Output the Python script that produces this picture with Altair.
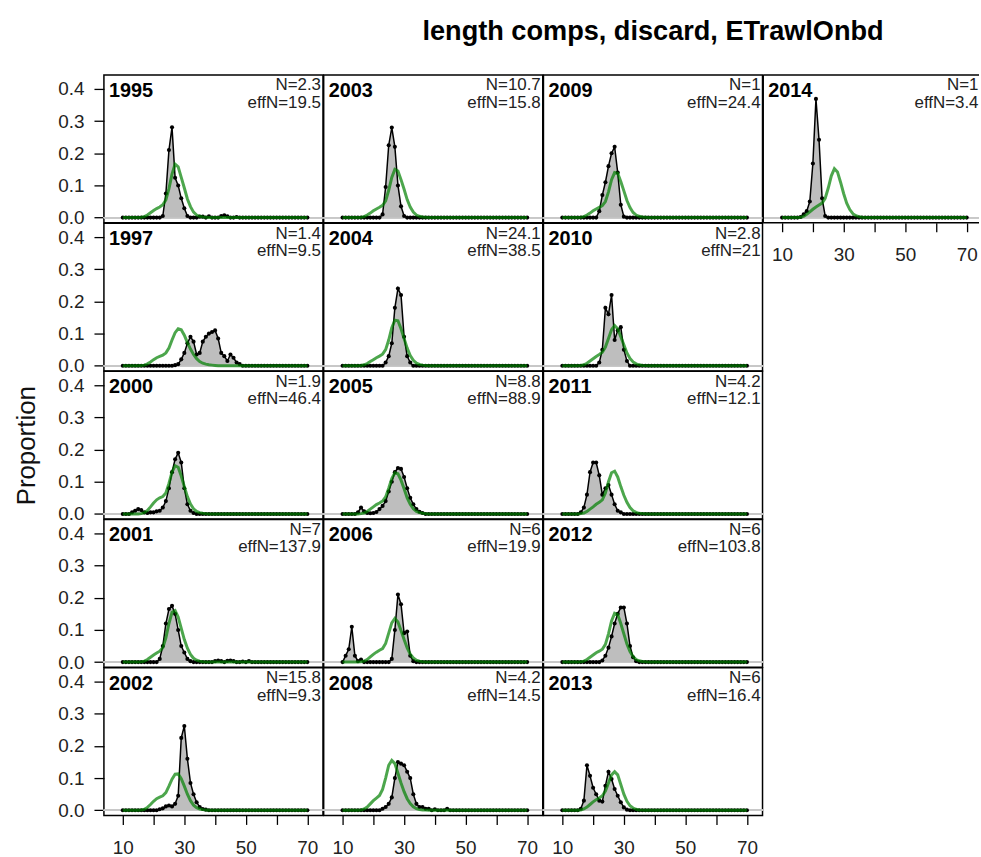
import altair as alt
import pandas as pd

FONT = "Liberation Sans"
TITLE = "length comps, discard, ETrawlOnbd"

bins = list(range(10, 71))

# panel grid, row by row (None = empty cell)
grid_years = [
    [1995, 2003, 2009, 2014],
    [1997, 2004, 2010, None],
    [2000, 2005, 2011, None],
    [2001, 2006, 2012, None],
    [2002, 2008, 2013, None],
]
x_axis_years = [2002, 2008, 2013, 2014]
open_right_years = [2014]  # right edge of this panel runs past the page

n_text = {1995: "N=2.3", 1997: "N=1.4", 2000: "N=1.9", 2001: "N=7", 2002: "N=15.8",
          2003: "N=10.7", 2004: "N=24.1", 2005: "N=8.8", 2006: "N=6", 2008: "N=4.2",
          2009: "N=1", 2010: "N=2.8", 2011: "N=4.2", 2012: "N=6", 2013: "N=6", 2014: "N=1"}
effn_text = {1995: "effN=19.5", 1997: "effN=9.5", 2000: "effN=46.4", 2001: "effN=137.9",
             2002: "effN=9.3", 2003: "effN=15.8", 2004: "effN=38.5", 2005: "effN=88.9",
             2006: "effN=19.9", 2008: "effN=14.5", 2009: "effN=24.4", 2010: "effN=21",
             2011: "effN=12.1", 2012: "effN=103.8", 2013: "effN=16.4", 2014: "effN=3.4"}

# observed proportions: first length bin, then values for consecutive bins
obs_start = {1995: 23, 1997: 27, 2000: 13, 2001: 22, 2002: 22, 2003: 23, 2004: 24, 2005: 15,
             2006: 11, 2008: 23, 2009: 22, 2010: 22, 2011: 16, 2012: 23, 2013: 16, 2014: 16}
obs_vals = {
    1995: [0.005, 0.075, 0.21, 0.281, 0.124, 0.10, 0.06, 0.029, 0.005, 0, 0, 0, 0.003, 0.003, 0,
           0.004, 0, 0, 0, 0.005, 0.007, 0.004, 0, 0, 0.002],
    1997: [0.002, 0.005, 0.02, 0.04, 0.07, 0.09, 0.075, 0.035, 0.04, 0.075, 0.09, 0.10, 0.105,
           0.11, 0.085, 0.04, 0.03, 0.015, 0.035, 0.025, 0.01, 0.005],
    2000: [0.005, 0.01, 0.015, 0.012, 0.005, 0.003, 0.005, 0.005, 0.008, 0.01, 0.02, 0.04, 0.08,
           0.13, 0.17, 0.19, 0.16, 0.08, 0.03, 0.01, 0.003],
    2001: [0.01, 0.05, 0.12, 0.165, 0.175, 0.15, 0.10, 0.05, 0.03, 0.01, 0.003, 0, 0, 0, 0, 0, 0,
           0, 0.003, 0.005, 0.003, 0, 0.004, 0.005, 0.003, 0, 0, 0.002, 0, 0.003],
    2002: [0.003, 0.006, 0.012, 0.015, 0.012, 0.02, 0.045, 0.225, 0.262, 0.16, 0.085, 0.05, 0.025,
           0.01, 0.004, 0.002],
    2003: [0.01, 0.095, 0.225, 0.28, 0.22, 0.10, 0.035, 0.005],
    2004: [0.01, 0.03, 0.07, 0.18, 0.24, 0.22, 0.09, 0.03, 0.01],
    2005: [0.005, 0.02, 0.008, 0.003, 0.002, 0.003, 0.006, 0.015, 0.025, 0.04, 0.07, 0.10, 0.13,
           0.143, 0.14, 0.115, 0.08, 0.05, 0.03, 0.015, 0.007, 0.003],
    2006: [0.02, 0.04, 0.11, 0.02, 0.003, 0.008, 0, 0, 0, 0, 0, 0, 0, 0, 0, 0.01, 0.10, 0.21,
           0.18, 0.09, 0.095, 0.02, 0.003],
    2008: [0.005, 0.01, 0.02, 0.04, 0.10, 0.15, 0.145, 0.14, 0.12, 0.10, 0.05, 0.02, 0.01, 0.01,
           0.005, 0.005, 0, 0.003, 0, 0, 0, 0.005],
    2009: [0.02, 0.07, 0.11, 0.16, 0.20, 0.22, 0.14, 0.04, 0.003],
    2010: [0.01, 0.05, 0.18, 0.16, 0.22, 0.08, 0.11, 0.12, 0.05, 0.015],
    2011: [0.005, 0.02, 0.06, 0.13, 0.16, 0.16, 0.12, 0.06, 0.08, 0.09, 0.06, 0.03, 0.01, 0.005],
    2012: [0.005, 0.02, 0.045, 0.08, 0.12, 0.15, 0.17, 0.17, 0.12, 0.05, 0.015, 0.003],
    2013: [0.005, 0.03, 0.14, 0.107, 0.07, 0.05, 0.03, 0.027, 0.076, 0.12, 0.097, 0.066, 0.045,
           0.025, 0.009, 0.002],
    2014: [0.002, 0.01, 0.02, 0.05, 0.168, 0.369, 0.242, 0.06, 0.005],
}

# expected proportions, starting at length bin 16
exp_start = 16
exp_vals = {
    1995: [0.001, 0.003, 0.008, 0.015, 0.022, 0.028, 0.033, 0.04, 0.055, 0.09, 0.135, 0.166,
           0.158, 0.125, 0.092, 0.058, 0.034, 0.017, 0.008, 0.004, 0.002, 0.001],
    1997: [0.001, 0.002, 0.006, 0.012, 0.019, 0.025, 0.029, 0.033, 0.04, 0.055, 0.08, 0.103,
           0.115, 0.112, 0.095, 0.072, 0.052, 0.035, 0.022, 0.013, 0.008, 0.005, 0.003, 0.002, 0.001],
    2000: [0.001, 0.004, 0.011, 0.022, 0.034, 0.044, 0.05, 0.054, 0.065, 0.095, 0.13, 0.15,
           0.145, 0.118, 0.085, 0.054, 0.031, 0.016, 0.008, 0.004, 0.002, 0.001],
    2001: [0.001, 0.003, 0.008, 0.015, 0.022, 0.028, 0.034, 0.045, 0.075, 0.12, 0.155, 0.16,
           0.14, 0.105, 0.07, 0.043, 0.024, 0.012, 0.006, 0.003, 0.001, 0.0005],
    2002: [0.001, 0.003, 0.009, 0.018, 0.028, 0.036, 0.041, 0.045, 0.055, 0.075, 0.097, 0.112,
           0.113, 0.098, 0.075, 0.05, 0.03, 0.016, 0.008, 0.004, 0.002, 0.001],
    2003: [0.001, 0.003, 0.008, 0.014, 0.021, 0.027, 0.032, 0.038, 0.052, 0.085, 0.125, 0.15,
           0.145, 0.118, 0.088, 0.056, 0.033, 0.017, 0.008, 0.004, 0.002, 0.001],
    2004: [0.001, 0.003, 0.007, 0.013, 0.019, 0.025, 0.03, 0.036, 0.05, 0.08, 0.118, 0.142,
           0.14, 0.115, 0.085, 0.055, 0.032, 0.017, 0.008, 0.004, 0.002, 0.001],
    2005: [0.001, 0.003, 0.008, 0.015, 0.022, 0.029, 0.034, 0.04, 0.053, 0.08, 0.11, 0.128,
           0.125, 0.105, 0.078, 0.05, 0.03, 0.016, 0.008, 0.004, 0.002, 0.001],
    2006: [0.001, 0.003, 0.008, 0.016, 0.024, 0.031, 0.037, 0.042, 0.058, 0.09, 0.122, 0.136,
           0.125, 0.098, 0.07, 0.044, 0.025, 0.013, 0.006, 0.003, 0.001, 0.0005],
    2008: [0.001, 0.004, 0.01, 0.02, 0.03, 0.038, 0.046, 0.065, 0.10, 0.14, 0.155, 0.145, 0.115,
           0.085, 0.058, 0.036, 0.021, 0.011, 0.005, 0.002, 0.001, 0.0005],
    2009: [0.001, 0.003, 0.008, 0.014, 0.021, 0.027, 0.032, 0.037, 0.05, 0.08, 0.118, 0.14,
           0.138, 0.112, 0.083, 0.053, 0.031, 0.016, 0.008, 0.004, 0.002, 0.001],
    2010: [0.001, 0.003, 0.008, 0.015, 0.022, 0.029, 0.035, 0.042, 0.058, 0.085, 0.112, 0.125,
           0.115, 0.09, 0.065, 0.04, 0.023, 0.012, 0.006, 0.003, 0.001, 0.0005],
    2011: [0.001, 0.003, 0.008, 0.015, 0.022, 0.03, 0.036, 0.044, 0.065, 0.10, 0.128, 0.133,
           0.115, 0.085, 0.058, 0.036, 0.02, 0.01, 0.005, 0.002, 0.001, 0.0005],
    2012: [0.001, 0.003, 0.008, 0.015, 0.022, 0.029, 0.034, 0.04, 0.055, 0.088, 0.128, 0.152,
           0.148, 0.12, 0.088, 0.056, 0.033, 0.017, 0.008, 0.004, 0.002, 0.001],
    2013: [0.001, 0.004, 0.01, 0.018, 0.026, 0.033, 0.038, 0.045, 0.06, 0.085, 0.11, 0.12, 0.11,
           0.08, 0.05, 0.028, 0.014, 0.007, 0.003, 0.001, 0.0005, 0],
    2014: [0.001, 0.004, 0.01, 0.018, 0.026, 0.033, 0.039, 0.045, 0.06, 0.092, 0.13, 0.152,
           0.142, 0.11, 0.075, 0.045, 0.025, 0.012, 0.006, 0.003, 0.001, 0.0005],
}

x_ticks = [10, 20, 30, 40, 50, 60, 70]
y_ticks = [0.0, 0.1, 0.2, 0.3, 0.4]
PW, PH = 220.3, 148.6
PW_LAST = 217.0          # visible part of the last column (page edge cuts it)
PX_PER_CM = 3.093
X_MIN = 3.857
Y_DOMAIN = [-5.2 / 323.5, 0.4 + 14.0 / 323.5]


def year_frame(yr):
    s, vals = obs_start[yr], obs_vals[yr]
    ev = exp_vals[yr]
    rows = []
    for b in bins:
        o = vals[b - s] if s <= b < s + len(vals) else 0.0
        e = ev[b - exp_start] if exp_start <= b < exp_start + len(ev) else 0.0
        rows.append({"len": b, "obs": o, "exp": e})
    return pd.DataFrame(rows)


def panel(yr, show_x, show_y, y_title=None):
    open_right = yr in open_right_years
    w = PW_LAST if open_right else PW
    df = year_frame(yr)
    xs = alt.Scale(domain=[X_MIN, X_MIN + w / PX_PER_CM], nice=False, zero=False)
    ys = alt.Scale(domain=Y_DOMAIN, nice=False, zero=False)
    if show_x:
        ax = alt.Axis(values=x_ticks, labelExpr="datum.value % 20 == 10 ? datum.label : ''",
                      tickSize=9, tickWidth=1.3, tickColor="black", labelPadding=14,
                      labelFontSize=19, labelColor="#222", domain=False, grid=False,
                      labelFlush=False, labelOverlap=False, labelFont=FONT)
    else:
        ax = None
    if show_y:
        ay_kw = dict(values=y_ticks, format=".1f", tickSize=10, tickWidth=1.3, tickColor="black",
                     labelPadding=10, labelFontSize=19, labelColor="#222", domain=False,
                     grid=False, labelFlush=False, labelOverlap=False, labelFont=FONT)
        if y_title:
            ay_kw.update(titleFontSize=26, titleFontWeight="normal", titleFont=FONT,
                         titleColor="#111", titlePadding=18)
        ay = alt.Axis(**ay_kw)
    else:
        ay = None
    yt = y_title if (show_y and y_title) else None
    X = alt.X("len:Q", scale=xs, axis=ax, title=None)
    Yo = alt.Y("obs:Q", scale=ys, axis=ay, title=yt)
    Ye = alt.Y("exp:Q", scale=ys, axis=ay, title=yt)

    base = alt.Chart(df)
    zero = base.mark_rule(color="#c8c8c8", strokeWidth=1).encode(
        y=alt.Y(datum=0, type="quantitative", scale=ys, axis=ay, title=yt))
    area = base.mark_area(color="#bebebe", opacity=1).encode(x=X, y=Yo, y2=alt.datum(0))
    oline = base.mark_line(color="black", strokeWidth=1.5).encode(x=X, y=Yo)
    opts = base.mark_circle(color="black", size=17, opacity=1).encode(x=X, y=Yo)
    eline = base.mark_line(color="#008000", strokeOpacity=0.7, strokeWidth=3).encode(x=X, y=Ye)

    tx = w - 0.5 if open_right else w - 2
    lab = pd.DataFrame({"year": [str(yr)], "n": [n_text[yr]], "effn": [effn_text[yr]]})
    lbase = alt.Chart(lab)
    t_year = lbase.mark_text(align="left", baseline="alphabetic", font=FONT, fontSize=20,
                             fontWeight="bold", color="black").encode(
        x=alt.value(5), y=alt.value(22), text="year:N")
    t_n = lbase.mark_text(align="right", baseline="alphabetic", font=FONT, fontSize=17,
                          color="#222").encode(x=alt.value(tx), y=alt.value(15.5), text="n:N")
    t_e = lbase.mark_text(align="right", baseline="alphabetic", font=FONT, fontSize=17,
                          color="#222").encode(x=alt.value(tx), y=alt.value(33), text="effn:N")
    layers = [zero, area, oline, opts, eline, t_year, t_n, t_e]
    props = dict(width=w, height=PH)
    if open_right:
        # frame on three sides only: the right edge lies beyond the page
        edge = lbase.mark_rule(color="black", strokeWidth=1.5)
        layers += [
            edge.encode(x=alt.value(0), x2=alt.value(w), y=alt.value(0)),
            edge.encode(x=alt.value(0), x2=alt.value(w), y=alt.value(PH)),
            edge.encode(x=alt.value(0), y=alt.value(0), y2=alt.value(PH)),
        ]
        props["view"] = alt.ViewBackground(stroke="transparent")
    return alt.layer(*layers).properties(**props)


def blank(w):
    return alt.Chart(pd.DataFrame({"v": [0]})).mark_point(opacity=0).encode(
        x=alt.X("v:Q", axis=None), y=alt.Y("v:Q", axis=None)
    ).properties(width=w, height=PH, view=alt.ViewBackground(stroke="transparent"))


cells = []
for ri, row in enumerate(grid_years):
    for ci, yr in enumerate(row):
        if yr is None:
            cells.append(blank(PW_LAST if ci == 3 else PW))
        else:
            cells.append(panel(yr, yr in x_axis_years, ci == 0,
                               "Proportion" if (ci == 0 and ri == 2) else None))

chart = alt.concat(*cells, columns=4, spacing=0, bounds="flush").properties(
    title=alt.TitleParams(TITLE, font=FONT, fontSize=27.3, fontWeight="bold", color="black",
                          anchor="start", dx=411.5, offset=28),
    padding={"left": 12.5, "top": 16, "right": 0, "bottom": 5},
).configure(font=FONT).configure_view(stroke="black", strokeWidth=1.5)

chart.save("out.html", embed_options={"renderer": "svg", "actions": False})
